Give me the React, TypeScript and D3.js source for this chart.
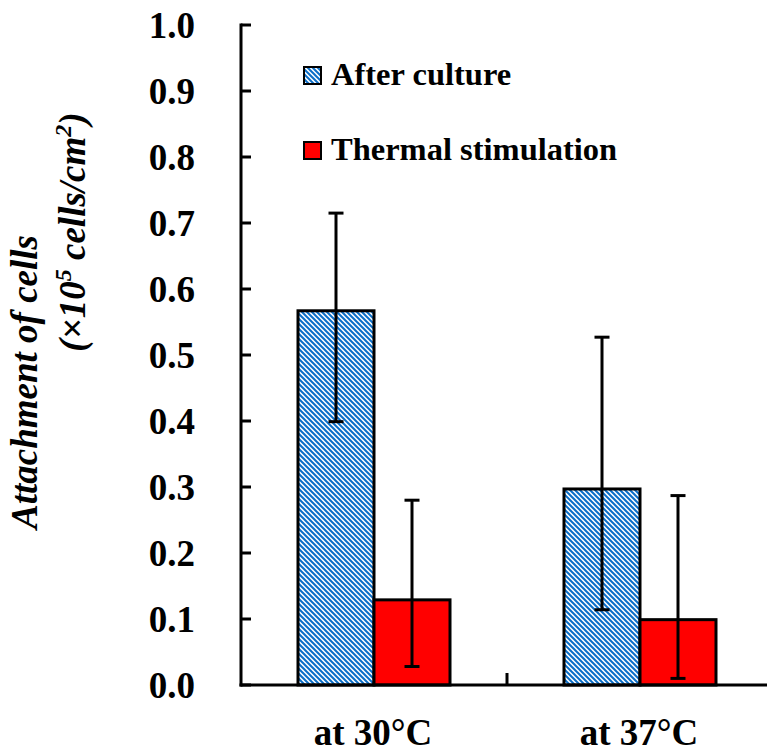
import React from "react";
import * as d3 from "d3";

// Attachment of cells by culture temperature, mean with error range
const categories = ["at 30°C", "at 37°C"];
const seriesNames = ["After culture", "Thermal stimulation"];
const afterCulture = [0.567, 0.297];
const afterCultureLow = [0.399, 0.114];
const afterCultureHigh = [0.715, 0.527];
const thermal = [0.129, 0.099];
const thermalLow = [0.028, 0.01];
const thermalHigh = [0.28, 0.287];
const yTicks = [0, 0.1, 0.2, 0.3, 0.4, 0.5, 0.6, 0.7, 0.8, 0.9, 1.0];

const W = 767;
const H = 753;
const left = 241;
const bottom = 685;
const top = 25;
const right = 773;
const FONT = "'Liberation Serif', 'Times New Roman', serif";
const BLUE = "#0a6ec8";
const RED = "#ff0000";

export default function App() {
  const y = d3.scaleLinear().domain([0, 1]).range([bottom, top]);
  const x = d3.scaleBand<string>().domain(categories).range([left, right]).padding(0);
  const step = x.step();
  const barW = 76;
  const xs = d3
    .scaleBand<string>()
    .domain(seriesNames)
    .range([step / 2 - barW, step / 2 + barW])
    .padding(0);

  const series = [
    { name: seriesNames[0], values: afterCulture, lo: afterCultureLow, hi: afterCultureHigh, fill: "url(#hatch)" },
    { name: seriesNames[1], values: thermal, lo: thermalLow, hi: thermalHigh, fill: RED },
  ];
  const capW = 15;

  return (
    <svg
      width={W}
      height={H}
      style={{ position: "absolute", left: 0, top: 0, background: "#fff" }}
      fontFamily={FONT}
    >
      <defs>
        <pattern id="hatch" patternUnits="userSpaceOnUse" width={5} height={5}>
          <rect width={5} height={5} fill="#fff" />
          <path
            d="M-1,-1 L6,6 M-1,4 L1,6 M4,-1 L6,1"
            stroke={BLUE}
            strokeWidth={2}
          />
        </pattern>
      </defs>

      {/* bars */}
      {series.map((s) =>
        categories.map((c, i) => {
          const x0 = (x(c) ?? 0) + (xs(s.name) ?? 0);
          const w = xs.bandwidth();
          return (
            <rect
              key={s.name + c}
              x={x0}
              y={y(s.values[i])}
              width={w}
              height={bottom - y(s.values[i])}
              fill={s.fill}
              stroke="#000"
              strokeWidth={3}
            />
          );
        })
      )}

      {/* error bars */}
      {series.map((s) =>
        categories.map((c, i) => {
          const cx = (x(c) ?? 0) + (xs(s.name) ?? 0) + xs.bandwidth() / 2;
          return (
            <g key={"e" + s.name + c} stroke="#000" strokeWidth={3}>
              <line x1={cx} x2={cx} y1={y(s.lo[i])} y2={y(s.hi[i])} />
              <line x1={cx - capW / 2} x2={cx + capW / 2} y1={y(s.hi[i])} y2={y(s.hi[i])} />
              <line x1={cx - capW / 2} x2={cx + capW / 2} y1={y(s.lo[i])} y2={y(s.lo[i])} />
            </g>
          );
        })
      )}

      {/* y axis */}
      <line x1={left} x2={left} y1={top - 1.5} y2={bottom + 1.5} stroke="#000" strokeWidth={3} />
      {yTicks.map((t) => (
        <g key={t}>
          <line x1={left} x2={left + 10} y1={y(t)} y2={y(t)} stroke="#000" strokeWidth={3} />
          <text
            x={195}
            y={y(t)}
            dy="0.35em"
            textAnchor="end"
            fontSize={37}
            fontWeight="bold"
            fill="#000"
          >
            {d3.format(".1f")(t)}
          </text>
        </g>
      ))}

      {/* x axis */}
      <line x1={left - 1.5} x2={right} y1={bottom} y2={bottom} stroke="#000" strokeWidth={3} />
      {categories.slice(1).map((c) => (
        <line key={c} x1={x(c)} x2={x(c)} y1={bottom} y2={bottom - 12} stroke="#000" strokeWidth={3} />
      ))}
      {categories.map((c) => (
        <text
          key={c}
          x={(x(c) ?? 0) + step / 2 - 1}
          y={745}
          textAnchor="middle"
          fontSize={37}
          fontWeight="bold"
          fill="#000"
        >
          {c}
        </text>
      ))}

      {/* y axis title */}
      <g transform="translate(37,382) rotate(-90)">
        <text textAnchor="middle" fontSize={37} fontWeight="bold" fontStyle="italic" fill="#000">
          Attachment of cells
        </text>
      </g>
      <g transform="translate(85,232) rotate(-90)">
        <text textAnchor="middle" fontSize={37} fontWeight="bold" fontStyle="italic" fill="#000">
          (×10
          <tspan fontSize={24} dy={-14}>5</tspan>
          <tspan dy={14}> cells/cm</tspan>
          <tspan fontSize={24} dy={-14}>2</tspan>
          <tspan dy={14}>)</tspan>
        </text>
      </g>

      {/* legend */}
      {series.map((s, i) => {
        const ly = 85 + i * 75;
        return (
          <g key={"l" + s.name}>
            <rect x={304} y={ly - 18} width={17} height={17} fill={s.fill} stroke="#000" strokeWidth={2} />
            <text x={331} y={ly} fontSize={32.5} fontWeight="bold" fill="#000">
              {s.name}
            </text>
          </g>
        );
      })}
    </svg>
  );
}
